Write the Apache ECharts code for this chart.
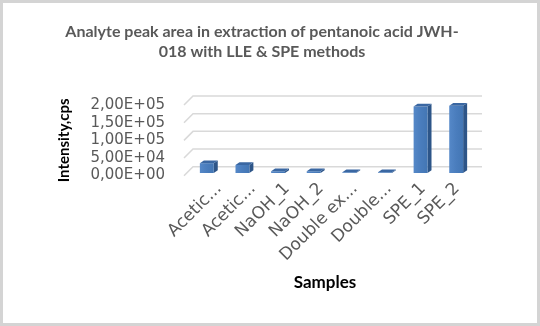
<!DOCTYPE html>
<html>
<head>
<meta charset="utf-8">
<script src="https://cdn.jsdelivr.net/npm/echarts@6/dist/echarts.min.js"></script>
<style>
  html, body { margin: 0; padding: 0; background: #ffffff; }
  #chart { width: 540px; height: 326px; }
</style>
</head>
<body>
<div id="chart"></div>
<script>
// Peak areas (cps) per extraction sample
const categories = ['Acetic...', 'Acetic...', 'NaOH_1', 'NaOH_2', 'Double ex...', 'Double...', 'SPE_1', 'SPE_2'];
const intensities = [28000, 23000, 5000, 5000, 2000, 2000, 190000, 192000];

// Value axis ticks and their labels (comma decimal separator)
const yTicks = [0, 50000, 100000, 150000, 200000];
const yTickLabels = ['0,00E+00', '5,00E+04', '1,00E+05', '1,50E+05', '2,00E+05'];

const titleLines = ['Analyte peak area in extraction of pentanoic acid JWH-', '018 with LLE & SPE methods'];
const yName = 'Intensity,cps';
const xName = 'Samples';

const YMAX = yTicks[yTicks.length - 1];
const labelFont = '"DejaVu Sans", Verdana, sans-serif';
const boldFont = 'Lato, "Liberation Sans", sans-serif';

// Depth offset between the front plane (labels) and the back wall (gridlines)
const WALL_DX = 9, WALL_DY = 9;
// Depth of each column (side and top faces)
const BAR_DX = 4, BAR_DY = 2.7;

const chart = echarts.init(document.getElementById('chart'), null, { renderer: 'canvas' });

const textBlock = (text, x, y, size, color) => ({
  type: 'text', x, y, silent: true,
  style: {
    text, fill: color, align: 'center', verticalAlign: 'middle',
    font: `bold ${size}px ${boldFont}`
  }
});

const option = {
  backgroundColor: '#ffffff',
  animation: false,
  graphic: [
    {
      type: 'rect', shape: { x: 1.5, y: 1.5, width: 537, height: 323 },
      style: { fill: 'none', stroke: '#d4d4d4', lineWidth: 3 }, silent: true, z: -1
    },
    textBlock(titleLines[0], 262, 31.5, 16, '#595959'),
    textBlock(titleLines[1], 262, 51.5, 16, '#595959'),
    textBlock(xName, 325, 283, 17, '#000000')
  ],
  grid: [
    // 0: back wall with gridlines
    { left: 193, right: 58, top: 96, height: 70.7 },
    // 1: front plane carrying the value labels
    { left: 184, right: 67, top: 105.5, height: 69.7 },
    // 2: columns
    { left: 189, right: 66, top: 103, height: 70 },
    // 3: category labels, set in front of the columns
    { left: 202, right: 66, top: 103, height: 70 }
  ],
  xAxis: [
    { gridIndex: 0, type: 'value', min: 0, max: 1, show: false },
    { gridIndex: 1, type: 'value', min: 0, max: 1, show: false },
    { gridIndex: 2, type: 'category', data: categories, show: false },
    {
      gridIndex: 3, type: 'category', data: categories,
      axisLine: { show: false }, axisTick: { show: false },
      axisLabel: {
        interval: 0, rotate: 45, margin: 13, color: '#595959',
        fontFamily: labelFont, fontSize: 17
      }
    }
  ],
  yAxis: [
    { gridIndex: 0, type: 'value', min: 0, max: YMAX, interval: 50000, show: false },
    {
      gridIndex: 1, type: 'value', min: 0, max: YMAX, interval: 50000,
      axisLine: { show: false }, axisTick: { show: false }, splitLine: { show: false },
      axisLabel: {
        margin: 19, color: '#595959', fontFamily: labelFont, fontSize: 15,
        formatter: v => yTickLabels[yTicks.indexOf(v)] ?? ''
      },
      name: yName, nameLocation: 'middle', nameGap: 112, nameRotate: 90,
      nameTextStyle: { fontFamily: boldFont, fontWeight: 'bold', fontSize: 15, color: '#000000' }
    },
    { gridIndex: 2, type: 'value', min: 0, max: YMAX, show: false },
    { gridIndex: 3, type: 'value', min: 0, max: YMAX, show: false }
  ],
  series: [
    {
      // back wall gridlines with the diagonal floor/wall edge toward the labels
      type: 'custom', xAxisIndex: 0, yAxisIndex: 0,
      data: yTicks.map(v => [0, v]),
      renderItem: (params, api) => {
        const v = api.value(1);
        const a = api.coord([0, v]);
        const b = api.coord([1, v]);
        return {
          type: 'polyline',
          shape: { points: [[a[0] - WALL_DX, a[1] + WALL_DY], a, b] },
          style: { stroke: '#d9d9d9', lineWidth: 1.5, fill: null }
        };
      },
      silent: true, z: 1
    },
    {
      // 3D-looking columns: front face, side face and top face
      type: 'custom', xAxisIndex: 2, yAxisIndex: 2,
      data: intensities.map((v, i) => [i, v]),
      renderItem: (params, api) => {
        const i = api.value(0), v = api.value(1);
        const top = api.coord([i, v]);
        const base = api.coord([i, 0]);
        const w = api.size([1, 0])[0] * 0.39;
        const x0 = top[0] - w / 2, x1 = top[0] + w / 2;
        const y0 = top[1], y1 = base[1];
        return {
          type: 'group',
          children: [
            {
              type: 'polygon',
              shape: { points: [[x1, y0], [x1 + BAR_DX, y0 - BAR_DY], [x1 + BAR_DX, y1 - BAR_DY], [x1, y1]] },
              style: { fill: '#2d5588' }
            },
            {
              type: 'rect',
              shape: { x: x0, y: y0, width: w, height: y1 - y0 },
              style: {
                fill: new echarts.graphic.LinearGradient(0, 0, 1, 0, [
                  { offset: 0, color: '#5588c8' },
                  { offset: 0.5, color: '#4a7dbd' },
                  { offset: 1, color: '#4376b4' }
                ])
              }
            },
            {
              type: 'polygon',
              shape: { points: [[x0, y0], [x0 + BAR_DX, y0 - BAR_DY], [x1 + BAR_DX, y0 - BAR_DY], [x1, y0]] },
              style: { fill: '#3a67a2' }
            }
          ]
        };
      },
      z: 2
    }
  ]
};

chart.setOption(option);
</script>
</body>
</html>
